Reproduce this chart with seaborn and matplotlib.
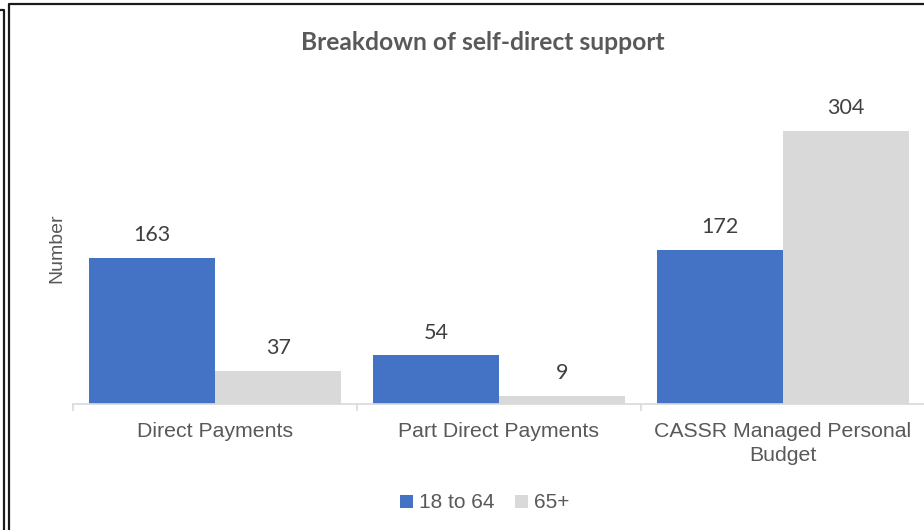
import matplotlib
matplotlib.use("Agg")
import matplotlib.pyplot as plt
from matplotlib.lines import Line2D
import seaborn as sns
import pandas as pd

categories = ["Direct Payments", "Part Direct Payments", "CASSR Managed Personal\nBudget"]
age_groups = ["18 to 64", "65+"]
values_18_64 = [163, 54, 172]
values_65_plus = [37, 9, 304]

colors = {"18 to 64": "#4472C4", "65+": "#D9D9D9"}

df = pd.DataFrame({
    "category": categories * 2,
    "group": [age_groups[0]] * 3 + [age_groups[1]] * 3,
    "value": values_18_64 + values_65_plus,
})

sns.set_theme(style="white")
W, H = 924, 530
fig = plt.figure(figsize=(W / 100, H / 100), dpi=100)
ax = fig.add_axes([73 / W, 1 - 404 / H, 852 / W, (404 - 95) / H])

sns.barplot(data=df, x="category", y="value", hue="group", order=categories,
            hue_order=age_groups, palette=colors, width=0.89, saturation=1,
            ax=ax, legend=True, linewidth=0)

ax.set_xlim(-0.5, 2.5)
ax.set_ylim(0, 344)

label_font = dict(family=["Lato", "DejaVu Sans"], fontsize=15.5, color="#404040")
for cont in ax.containers:
    for bar in cont:
        v = bar.get_height()
        ax.annotate(f"{int(v)}", (bar.get_x() + bar.get_width() / 2, v),
                    xytext=(0, 9), textcoords="offset points",
                    ha="center", va="bottom", **label_font)

for s in ["top", "right", "left"]:
    ax.spines[s].set_visible(False)
ax.spines["bottom"].set_color("#D9D9D9")
ax.spines["bottom"].set_linewidth(1.2)
ax.set_yticks([])
ax.set_xticks([0, 1, 2])
ax.set_xticklabels(categories, family=["Liberation Sans", "DejaVu Sans"],
                   fontsize=15.3, color="#595959", linespacing=1.3)
ax.tick_params(axis="x", which="major", length=0, pad=13)
ax.set_xticks([-0.5, 0.5, 1.5, 2.5], minor=True)
ax.tick_params(axis="x", which="minor", bottom=True, length=5, width=1.2,
               color="#D9D9D9", direction="out")
ax.set_xlabel("")
ax.set_ylabel("Number", family=["Liberation Sans", "DejaVu Sans"], fontsize=14,
              color="#595959", labelpad=0)
ax.yaxis.set_label_coords((65 - 73) / 852, (404 - 248) / (404 - 95))

fig.text(483 / W, 1 - 43 / H, "Breakdown of self-direct support",
         ha="center", va="center", fontsize=17.7, fontweight="bold",
         color="#595959", family=["Lato", "DejaVu Sans"])

leg = ax.legend(loc="center", bbox_to_anchor=(485 / W, 1 - 503 / H),
                bbox_transform=fig.transFigure, ncol=2, frameon=False,
                handlelength=0.6, handleheight=0.6, handletextpad=0.3,
                columnspacing=1.0,
                prop={"family": ["Liberation Sans", "DejaVu Sans"], "size": 15})
for t in leg.get_texts():
    t.set_color("#595959")

# frame lines around the chart area
def fline(xs, ys, lw=1.6):
    fig.add_artist(Line2D([x / W for x in xs], [1 - y / H for y in ys],
                          transform=fig.transFigure, color="#1a1a1a", lw=lw))

fline([0, 3.5, 3.5], [10, 10, H])
fline([9, 9, W], [H, 4, 4])

fig.savefig("out.png", dpi=100, facecolor="white")
